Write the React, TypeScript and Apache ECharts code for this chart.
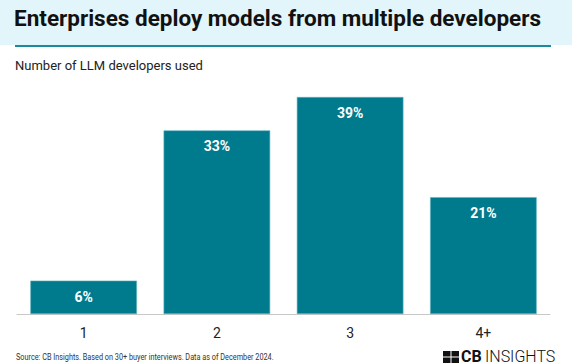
import React, { useEffect, useRef } from "react";
import * as echarts from "echarts";

const categories = ["1", "2", "3", "4+"];
const shares = [6, 33, 39, 21];
const titleText = "Enterprises deploy models from multiple developers";
const subtitleText = "Number of LLM developers used";
const sourceText = "Source: CB Insights. Based on 30+ buyer interviews. Data as of December 2024.";

export default function App() {
  const ref = useRef<HTMLDivElement>(null);
  useEffect(() => {
    document.body.style.margin = "0";
    const chart = echarts.init(ref.current!, null, { renderer: "svg" });
    chart.setOption({
      animation: false,
      backgroundColor: "#ffffff",
      textStyle: { fontFamily: "Roboto" },
      grid: { left: 17, right: 22, top: 97, bottom: 50 },
      xAxis: {
        type: "category",
        data: categories,
        axisLine: { lineStyle: { color: "#c8c8c8", width: 1 } },
        axisTick: { show: false },
        axisLabel: { color: "#222", fontSize: 14, margin: 12, fontFamily: "Roboto" },
      },
      yAxis: {
        type: "value",
        min: 0,
        max: 39,
        show: false,
        splitLine: { show: false },
      },
      series: [
        {
          type: "bar",
          data: shares,
          barCategoryGap: "20%",
          itemStyle: { color: "#007A8D", borderColor: "#5fb3c0", borderWidth: 0.6 },
          label: {
            show: true,
            position: "insideTop",
            distance: 9,
            color: "#ffffff",
            fontWeight: "bold",
            fontSize: 14,
            fontFamily: "Roboto",
            formatter: (p: any) => p.value + "%",
          },
        },
      ],
      graphic: [
        { type: "rect", shape: { x: 0, y: 0, width: 572, height: 45 }, style: { fill: "#E2F5FA" }, z: -1 },
        { type: "rect", shape: { x: 15, y: 45, width: 536, height: 2 }, style: { fill: "#1A8A9E" } },
        {
          type: "text",
          x: 14,
          y: 6,
          style: { text: titleText, fill: "#111", font: "bold 22.5px Roboto" },
        },
        {
          type: "text",
          x: 15,
          y: 59,
          style: { text: subtitleText, fill: "#222", font: "13px Roboto" },
        },
        {
          type: "text",
          x: 16,
          y: 353,
          scaleX: 0.86,
          style: { text: sourceText, fill: "#333333", font: "8.5px Roboto" },
        },
        // logo icon
        { type: "rect", shape: { x: 443, y: 351, width: 7.5, height: 5.5 }, style: { fill: "#111" } },
        { type: "rect", shape: { x: 451.5, y: 351, width: 7.5, height: 5.5 }, style: { fill: "#111" } },
        { type: "rect", shape: { x: 443, y: 357.5, width: 7.5, height: 5.5 }, style: { fill: "#111" } },
        { type: "rect", shape: { x: 451.5, y: 357.5, width: 7.5, height: 5.5 }, style: { fill: "#111" } },
        {
          type: "text",
          x: 461,
          y: 356,
          style: { text: "CB", fill: "#111", font: "bold 16px Roboto", lineHeight: 14, verticalAlign: "middle" },
        },
        {
          type: "text",
          x: 485,
          y: 356,
          style: { text: "INSIGHTS", fill: "#111", font: "300 16px Roboto", lineHeight: 14, verticalAlign: "middle" },
        },
      ],
    });
    return () => chart.dispose();
  }, []);
  return <div ref={ref} style={{ width: 572, height: 364 }} />;
}
